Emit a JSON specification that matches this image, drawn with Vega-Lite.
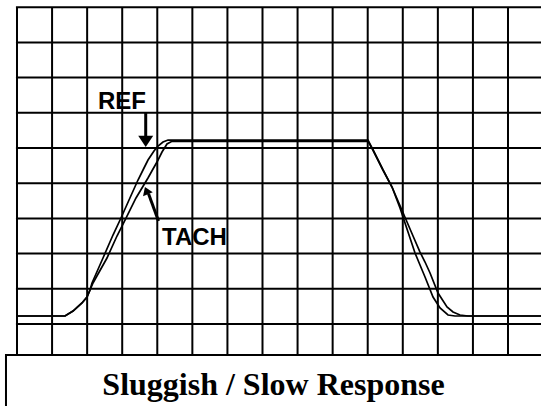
{
  "$schema": "https://vega.github.io/schema/vega-lite/v6.json",
  "width": 541,
  "height": 406,
  "autosize": {"type": "none"},
  "padding": 0,
  "background": "white",
  "config": {"view": {"stroke": null}},
  "datasets": {
    "vgrid": [{"gx":0},{"gx":1},{"gx":2},{"gx":3},{"gx":4},{"gx":5},{"gx":6},{"gx":7},{"gx":8},{"gx":9},{"gx":10},{"gx":11},{"gx":12},{"gx":13},{"gx":14}],
    "hgrid": [{"gy":0},{"gy":1},{"gy":2},{"gy":3},{"gy":4},{"gy":5},{"gy":6},{"gy":7},{"gy":8},{"gy":9}],
    "curves": [
      {"series":"REF","t":0,"v":0.227},
      {"series":"REF","t":1.369,"v":0.227},
      {"series":"REF","t":1.597,"v":0.369},
      {"series":"REF","t":1.853,"v":0.597},
      {"series":"REF","t":1.996,"v":0.767},
      {"series":"REF","t":2.082,"v":0.966},
      {"series":"REF","t":2.139,"v":1.165},
      {"series":"REF","t":2.452,"v":1.875},
      {"series":"REF","t":2.737,"v":2.528},
      {"series":"REF","t":2.965,"v":3.011},
      {"series":"REF","t":3.194,"v":3.523},
      {"series":"REF","t":3.450,"v":4.091},
      {"series":"REF","t":3.593,"v":4.375},
      {"series":"REF","t":3.735,"v":4.659},
      {"series":"REF","t":3.906,"v":4.915},
      {"series":"REF","t":4.021,"v":5.057},
      {"series":"REF","t":4.163,"v":5.170},
      {"series":"REF","t":4.306,"v":5.225},
      {"series":"REF","t":10.009,"v":5.225},
      {"series":"REF","t":10.151,"v":4.943},
      {"series":"REF","t":10.436,"v":4.375},
      {"series":"REF","t":10.693,"v":3.892},
      {"series":"REF","t":10.921,"v":3.295},
      {"series":"REF","t":11.149,"v":2.614},
      {"series":"REF","t":11.349,"v":2.017},
      {"series":"REF","t":11.491,"v":1.676},
      {"series":"REF","t":11.634,"v":1.335},
      {"series":"REF","t":11.862,"v":0.767},
      {"series":"REF","t":12.062,"v":0.455},
      {"series":"REF","t":12.290,"v":0.256},
      {"series":"REF","t":12.489,"v":0.227},
      {"series":"REF","t":14.941,"v":0.227},
      {"series":"TACH","t":0,"v":0.227},
      {"series":"TACH","t":1.369,"v":0.227},
      {"series":"TACH","t":1.597,"v":0.369},
      {"series":"TACH","t":1.853,"v":0.597},
      {"series":"TACH","t":1.996,"v":0.767},
      {"series":"TACH","t":2.082,"v":0.966},
      {"series":"TACH","t":2.167,"v":1.165},
      {"series":"TACH","t":2.566,"v":1.875},
      {"series":"TACH","t":2.851,"v":2.500},
      {"series":"TACH","t":3.108,"v":3.011},
      {"series":"TACH","t":3.393,"v":3.580},
      {"series":"TACH","t":3.735,"v":4.148},
      {"series":"TACH","t":3.878,"v":4.403},
      {"series":"TACH","t":3.992,"v":4.602},
      {"series":"TACH","t":4.135,"v":4.886},
      {"series":"TACH","t":4.277,"v":5.114},
      {"series":"TACH","t":4.420,"v":5.190},
      {"series":"TACH","t":10.009,"v":5.190},
      {"series":"TACH","t":10.151,"v":4.943},
      {"series":"TACH","t":10.436,"v":4.375},
      {"series":"TACH","t":10.693,"v":3.892},
      {"series":"TACH","t":10.950,"v":3.295},
      {"series":"TACH","t":11.121,"v":2.898},
      {"series":"TACH","t":11.292,"v":2.500},
      {"series":"TACH","t":11.491,"v":2.045},
      {"series":"TACH","t":11.634,"v":1.761},
      {"series":"TACH","t":11.777,"v":1.449},
      {"series":"TACH","t":12.005,"v":0.881},
      {"series":"TACH","t":12.261,"v":0.483},
      {"series":"TACH","t":12.432,"v":0.341},
      {"series":"TACH","t":12.632,"v":0.256},
      {"series":"TACH","t":12.860,"v":0.227},
      {"series":"TACH","t":14.941,"v":0.227}
    ],
    "labels": [
      {"label":"REF","lx":2.31,"ly":6.094},
      {"label":"TACH","lx":4.135,"ly":2.244}
    ],
    "shafts": [
      {"name":"REF","ax":3.670,"ay":5.994,"bx":3.670,"by":5.25},
      {"name":"TACH","ax":4.035,"ay":2.926,"bx":3.75,"by":3.70}
    ],
    "heads": [
      {"name":"REF","hx":3.670,"hy":5.199,"ang":0,"sz":225},
      {"name":"TACH","hx":3.693,"hy":3.781,"ang":158,"sz":110}
    ],
    "caption": [{"text":"Sluggish / Slow Response","cx":7.314,"cy":-2.017}]
  },
  "layer": [
    {
      "data": {"name": "vgrid"},
      "mark": {"type": "rule", "color": "#000", "strokeWidth": 2},
      "encoding": {
        "x": {"field": "gx", "type": "quantitative", "scale": {"domain": [-0.4847, 14.941], "nice": false, "zero": false}, "axis": null},
        "y": {"datum": 9, "type": "quantitative", "scale": {"domain": [-2.3295, 9.2045], "nice": false, "zero": false}, "axis": null},
        "y2": {"datum": -0.881}
      }
    },
    {
      "data": {"name": "hgrid"},
      "mark": {"type": "rule", "color": "#000", "strokeWidth": 2, "clip": true},
      "encoding": {
        "y": {"field": "gy", "type": "quantitative", "axis": null},
        "x": {"datum": -0.03, "type": "quantitative", "axis": null},
        "x2": {"datum": 15.2}
      }
    },
    {
      "data": {"name": "curves"},
      "mark": {"type": "line", "color": "#000", "strokeWidth": 1.7, "clip": true},
      "encoding": {
        "x": {"field": "t", "type": "quantitative", "axis": null},
        "y": {"field": "v", "type": "quantitative", "axis": null},
        "detail": {"field": "series"}
      }
    },
    {
      "data": {"values": [{"box": "caption"}]},
      "mark": {"type": "rect", "fill": "white", "stroke": "#000", "strokeWidth": 2, "clip": true},
      "encoding": {
        "x": {"datum": -0.314, "type": "quantitative", "axis": null},
        "x2": {"datum": 15.5},
        "y": {"datum": -2.6, "type": "quantitative", "axis": null},
        "y2": {"datum": -0.881}
      }
    },
    {
      "data": {"name": "caption"},
      "mark": {"type": "text", "font": "Liberation Serif", "fontWeight": "bold", "fontSize": 32, "align": "center", "baseline": "alphabetic", "color": "#000"},
      "encoding": {
        "x": {"field": "cx", "type": "quantitative", "axis": null},
        "y": {"field": "cy", "type": "quantitative", "axis": null},
        "text": {"field": "text"}
      }
    },
    {
      "data": {"name": "labels"},
      "mark": {"type": "text", "font": "Liberation Sans", "fontWeight": "bold", "fontSize": 24, "align": "left", "baseline": "alphabetic", "color": "#000"},
      "encoding": {
        "x": {"field": "lx", "type": "quantitative", "axis": null},
        "y": {"field": "ly", "type": "quantitative", "axis": null},
        "text": {"field": "label"}
      }
    },
    {
      "data": {"name": "shafts"},
      "mark": {"type": "rule", "color": "#000", "strokeWidth": 3},
      "encoding": {
        "x": {"field": "ax", "type": "quantitative", "axis": null},
        "y": {"field": "ay", "type": "quantitative", "axis": null},
        "x2": {"field": "bx"},
        "y2": {"field": "by"}
      }
    },
    {
      "data": {"name": "heads"},
      "mark": {"type": "point", "shape": "M-1,-0.7L1,-0.7L0,0.8Z", "filled": true, "color": "#000", "opacity": 1},
      "encoding": {
        "x": {"field": "hx", "type": "quantitative", "axis": null},
        "y": {"field": "hy", "type": "quantitative", "axis": null},
        "angle": {"field": "ang", "type": "quantitative", "scale": null},
        "size": {"field": "sz", "type": "quantitative", "scale": null, "legend": null}
      }
    }
  ]
}
